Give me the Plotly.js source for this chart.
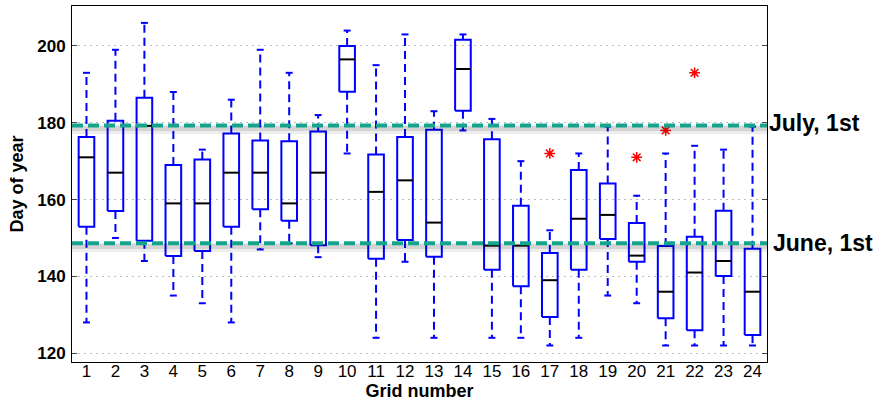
<!DOCTYPE html>
<html>
<head>
<meta charset="utf-8">
<script src="https://cdn.plot.ly/plotly-3.0.1.min.js"></script>
<style>html,body{margin:0;padding:0;background:#fff;}#chart{width:878px;height:404px;}</style>
</head>
<body>
<div id="chart"></div>
<script>
// ---- data ----
var grid   = [1,2,3,4,5,6,7,8,9,10,11,12,13,14,15,16,17,18,19,20,21,22,23,24];
var upper  = [193,199,206,188,173,186,199,193,182,204,195,203,183,203,181,170,152,172,179,161,172,174,173,179];
var q3     = [176.3,180.5,186.5,169,170.4,177.2,175.4,175.2,177.7,200,171.7,176.3,178.2,201.6,175.7,158.4,146.1,167.7,164.2,153.9,147.9,150.3,157.1,147.2];
var median = [171,167,179.2,159,159,167,167,159,167,196.5,162,165,154,194,148,148,139,155,156,145.4,136,141,144,136];
var q1     = [152.9,157,149.3,145.3,146.6,152.9,157.5,154.5,148.1,188.1,144.6,149.5,145.1,183.1,141.7,137.4,129.4,141.7,149.7,143.8,129.1,126,140.1,124.7];
var lower  = [128,150,144,135,133,128,147,148.6,145,172,124,143.8,124,178,124,124,122,124,135,133,122,122,122,122];
var outlierGrid = [17,20,21,22];
var outlierDay  = [172,171,178,193];
var refDays   = [179.3,148.6];
var refLabels = ['July, 1st','June, 1st'];
var yTicks = [120,140,160,180,200];

// ---- build geometry from data ----
var halfBox = 0.27, halfCap = 0.12;
var bx=[],by=[],mx=[],my=[],wx=[],wy=[],cx=[],cy=[];
for (var i=0;i<grid.length;i++){
  var g=grid[i];
  bx.push(g-halfBox,g+halfBox,g+halfBox,g-halfBox,g-halfBox,null);
  by.push(q1[i],q1[i],q3[i],q3[i],q1[i],null);
  mx.push(g-halfBox,g+halfBox,null); my.push(median[i],median[i],null);
  wx.push(g,g,null,g,g,null); wy.push(q3[i],upper[i],null,q1[i],lower[i],null);
  cx.push(g-halfCap,g+halfCap,null,g-halfCap,g+halfCap,null);
  cy.push(upper[i],upper[i],null,lower[i],lower[i],null);
}
var blue='#0000ff';
var traces=[
  {type:'scatter',mode:'lines',x:wx,y:wy,line:{color:blue,width:2,dash:'8px,5px'},hoverinfo:'skip'},
  {type:'scatter',mode:'lines',x:cx,y:cy,line:{color:blue,width:2},hoverinfo:'skip'},
  {type:'scatter',mode:'lines',x:bx,y:by,line:{color:blue,width:2},hoverinfo:'skip'},
  {type:'scatter',mode:'lines',x:mx,y:my,line:{color:'#000',width:2},hoverinfo:'skip'},
  {type:'scatter',mode:'markers',x:outlierGrid,y:outlierDay,
   marker:{symbol:'asterisk-open',size:9,color:'#ff0000',line:{color:'#ff0000',width:1.5}},hoverinfo:'skip'}
];

var shapes=[], annotations=[];
refDays.forEach(function(d,k){
  shapes.push({type:'line',xref:'paper',x0:0,x1:1,yref:'y',y0:d-1.1,y1:d-1.1,layer:'above',
               line:{color:'rgba(0,0,0,0.07)',width:9}});
  shapes.push({type:'line',xref:'paper',x0:0,x1:1,yref:'y',y0:d-0.8,y1:d-0.8,layer:'above',
               line:{color:'rgba(0,0,0,0.10)',width:5}});
  shapes.push({type:'line',xref:'paper',x0:0,x1:1,yref:'y',y0:d,y1:d,layer:'above',
               line:{color:'#14a58c',width:4,dash:'11px,5px'}});
  annotations.push({xref:'paper',x:1,xanchor:'left',xshift:k===0?0:4,yref:'y',y:d,yanchor:'middle',
                    yshift:k===0?2:0,text:'<b>'+refLabels[k]+'</b>',showarrow:false,
                    font:{size:23,color:'#000',family:'Liberation Sans, Arial, sans-serif'}});
});

var font='Liberation Sans, Arial, sans-serif';
var layout={
  width:878,height:404,
  margin:{l:72,r:111,t:6,b:42},
  paper_bgcolor:'#fff',plot_bgcolor:'#fff',
  showlegend:false,hovermode:false,
  font:{family:font,color:'#000'},
  xaxis:{range:[0.5,24.5],tickmode:'array',tickvals:grid,ticktext:grid.map(String),
         ticks:'',showgrid:false,zeroline:false,showline:true,linecolor:'#000',linewidth:1,mirror:true,
         tickfont:{size:17,family:font,color:'#000'},ticklabelstandoff:-6,
         title:{text:'<b>Grid number</b>',font:{size:18,family:font,color:'#000'},standoff:0}},
  yaxis:{range:[117.7,210.4],tickmode:'array',tickvals:yTicks,ticktext:yTicks.map(function(v){return '<b>'+v+'</b>';}),
         ticks:'inside',ticklen:5,tickcolor:'#444',tickwidth:1,
         showgrid:true,gridcolor:'#bbbbbb',gridwidth:1,griddash:'2px,4px',zeroline:false,
         showline:true,linecolor:'#000',linewidth:1,mirror:'ticks',
         tickfont:{size:17,family:font,color:'#000'},ticklabelstandoff:2,
         title:{text:'<b>Day of year</b>',font:{size:18,family:font,color:'#000'},standoff:8}},
  shapes:shapes,annotations:annotations
};
Plotly.newPlot('chart',traces,layout,{displayModeBar:false,staticPlot:true});
</script>
</body>
</html>
